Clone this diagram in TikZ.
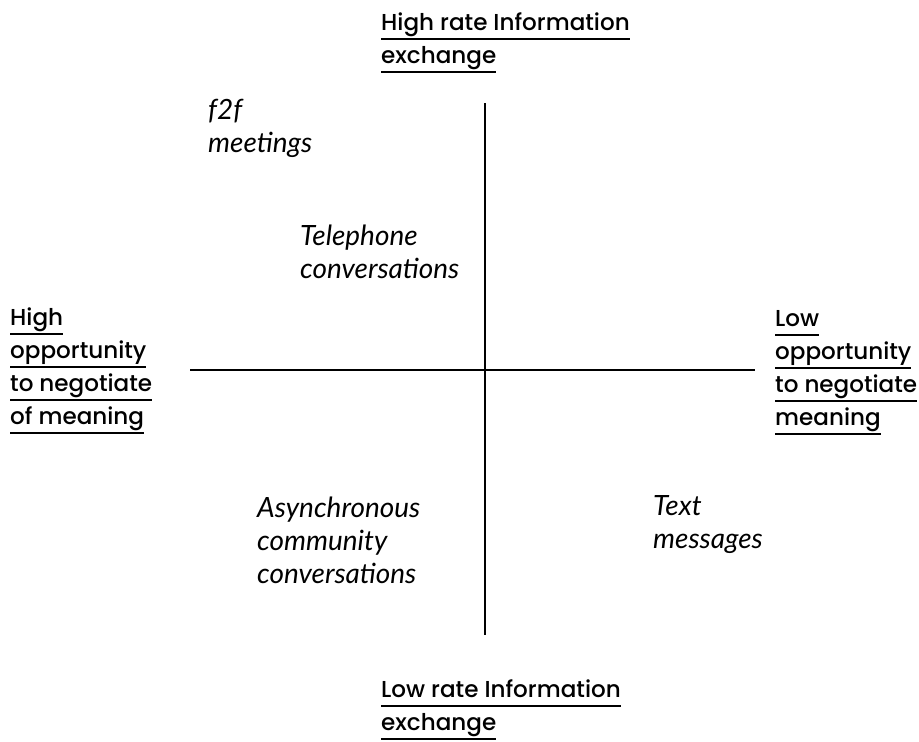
\documentclass[tikz,border=0pt]{standalone}
\usepackage{fontspec}
\setmainfont{Poppins}[UprightFont=* Medium]
\newfontfamily\notefont{Lato}
\newlength\probew
% size the axis font so that a sample phrase has a given width
\settowidth\probew{\fontsize{10pt}{12pt}\selectfont to negotiate}
\pgfmathsetmacro\axissize{10*142/\probew}
\settowidth\probew{\fontsize{10pt}{12pt}\selectfont\notefont\itshape Asynchronous}
\pgfmathsetmacro\notesize{10*163/\probew}
% one line of a block, with and without an underline
\newcommand\ulrow[1]{\hbox{\setbox0\hbox{#1}\rlap{\rule[-9.5pt]{\wd0}{2pt}}\box0}}
\newcommand\plainrow[1]{\hbox{#1}}
\newcommand\rowstack[1]{\vtop{\baselineskip=33pt\lineskiplimit=-100pt #1}}
\tikzset{
  axislabel/.style={anchor=base west, inner sep=0pt, font=\fontsize{\axissize pt}{33pt}\selectfont},
  notelabel/.style={anchor=base west, inner sep=0pt, font=\fontsize{\notesize pt}{33pt}\selectfont\notefont\itshape},
  axisline/.style={line width=1.3pt, black}
}
\begin{document}
\begin{tikzpicture}[x=1pt, y=-1pt]
  \useasboundingbox (0,0) rectangle (919,742);
  % axes
  \coordinate (vtop) at (485,103);
  \coordinate (vbot) at (485,635);
  \coordinate (hleft) at (190,370);
  \coordinate (hright) at (755,370);
  \draw[axisline] (vtop) -- (vbot);
  \draw[axisline] (hleft) -- (hright);
  % axis ends
  \node[axislabel] (top) at (381,30) {\rowstack{\ulrow{High rate Information}\ulrow{exchange}}};
  \node[axislabel] (bottom) at (381,697) {\rowstack{\ulrow{Low rate Information}\ulrow{exchange}}};
  \node[axislabel] (left) at (10,325) {\rowstack{\ulrow{High}\ulrow{opportunity}\ulrow{to negotiate}\ulrow{of meaning}}};
  \node[axislabel] (right) at (775,326) {\rowstack{\ulrow{Low}\ulrow{opportunity}\ulrow{to negotiate}\ulrow{meaning}}};
  % media placed in the quadrants
  \node[notelabel] (f2f) at (208,119) {\rowstack{\plainrow{f2f}\plainrow{meetings}}};
  \node[notelabel] (phone) at (300,245) {\rowstack{\plainrow{Telephone}\plainrow{conversations}}};
  \node[notelabel] (async) at (257,517) {\rowstack{\plainrow{Asynchronous}\plainrow{community}\plainrow{conversations}}};
  \node[notelabel] (sms) at (653,515) {\rowstack{\plainrow{Text}\plainrow{messages}}};
\end{tikzpicture}
\end{document}
